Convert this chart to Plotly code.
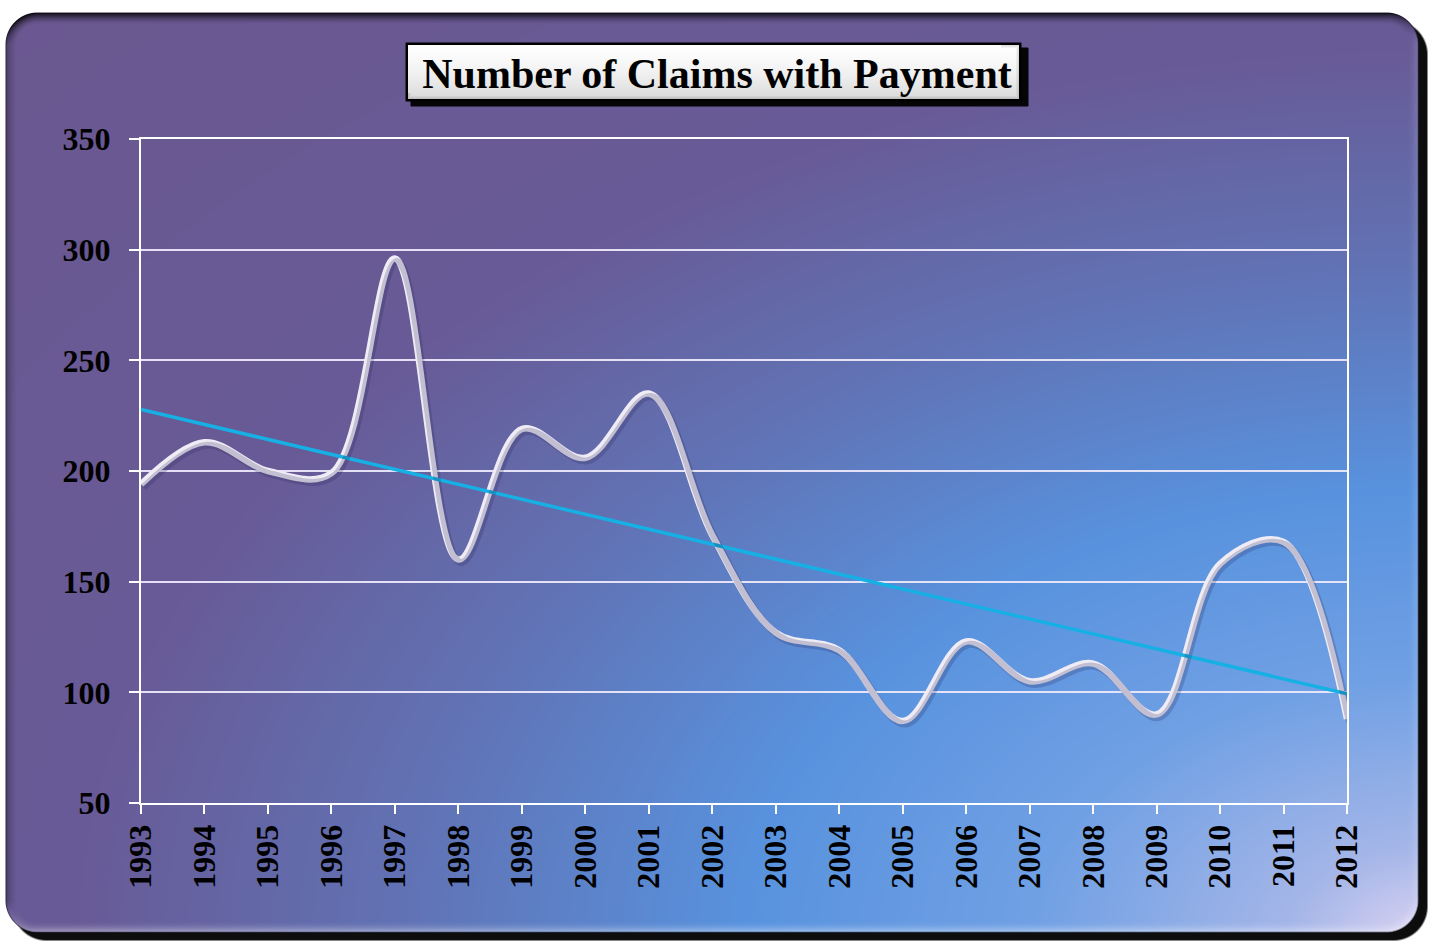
import numpy as np
import zlib, struct, base64
import plotly.graph_objects as go

# ---------------- data ----------------
years = [1993, 1994, 1995, 1996, 1997, 1998, 1999, 2000, 2001, 2002,
         2003, 2004, 2005, 2006, 2007, 2008, 2009, 2010, 2011, 2012]
claims = [194, 213, 200, 199, 296, 160, 219, 206, 235, 171,
          127, 119, 87, 123, 105, 113, 90, 158, 168, 88]
y_ticks = [50, 100, 150, 200, 250, 300, 350]
title_text = "Number of Claims with Payment"

# linear trend line (least squares) from the data
coef = np.polyfit(years, claims, 1)
trend = list(np.polyval(coef, years))

# ---------------- figure geometry ----------------
W, H = 1434, 942
PL, PR, PT, PB = 141, 87, 139, 139   # plot area margins
pw, ph = W - PL - PR, H - PT - PB

# ---------------- background picture (card + title box) ----------------
yy, xx = np.mgrid[0:H, 0:W].astype(np.float64)


def rrect_sd(x0, y0, x1, y1, r):
    cx, cy = (x0 + x1) / 2, (y0 + y1) / 2
    hx, hy = (x1 - x0) / 2 - r, (y1 - y0) / 2 - r
    qx = np.abs(xx - cx) - hx
    qy = np.abs(yy - cy) - hy
    out = np.sqrt(np.maximum(qx, 0) ** 2 + np.maximum(qy, 0) ** 2)
    ins = np.minimum(np.maximum(qx, qy), 0)
    return out + ins - r


img = np.ones((H, W, 3)) * 255.0


def blend(mask, color):
    global img
    m = mask[..., None]
    img = img * (1 - m) + np.asarray(color, dtype=float)[None, None, :] * m


# card shadow
sd_sh = rrect_sd(12, 20, 1427, 940, 34)
blend(np.clip(0.5 - sd_sh / 2.0, 0, 1) * 0.95, (0, 0, 0))

# card gradient (radial from bottom-right corner)
u = (W - xx) / W
v = (H - yy) / H
d = np.sqrt(u ** 2 + v ** 2)
stops = [0.0, 0.10, 0.28, 0.48, 0.72, 0.95, 1.6]
cols = np.array([(224, 214, 243), (165, 182, 232), (112, 160, 228), (88, 146, 222),
                 (97, 114, 180), (104, 90, 150), (108, 86, 142)], dtype=float)
grad = np.stack([np.interp(d, stops, cols[:, k]) for k in range(3)], axis=-1)

sd_c = rrect_sd(5, 12, 1418, 932, 32)
gy, gx = np.gradient(sd_c)
nrm = np.sqrt(gx ** 2 + gy ** 2) + 1e-9
gx, gy = gx / nrm, gy / nrm
light = -(gx * -0.35 + gy * -0.94)  # light from top
e = -sd_c
t = np.clip(1 - e / 12.0, 0, 1) * (e > 0)
face = grad.copy()
hl = np.clip(light, 0, 1) * t ** 2 * 0.45
dk = np.clip(-light, 0, 1) * t ** 1.6 * 0.95
face = face * (1 - hl[..., None]) + 255 * hl[..., None]
face = face * (1 - dk[..., None])
edge = np.clip(1 - e / 1.5, 0, 1) * (e > -1) * 0.55
face = face * (1 - edge[..., None])
m = np.clip(0.5 - sd_c, 0, 1)[..., None]
img = img * (1 - m) + face * m

# title box shadow + box
sd_ts = rrect_sd(410, 47, 1028, 106, 1)
blend(np.clip(0.5 - sd_ts, 0, 1) * 0.95, (0, 0, 0))
sd_tb = rrect_sd(405, 42, 1021, 101, 1)
tv = np.clip((yy - 42) / 59.0, 0, 1)
boxcol = np.stack([255 - 40 * tv ** 1.5] * 3, axis=-1)
eb = -sd_tb
shade = np.clip(1 - eb / 6.0, 0, 1) * ((xx > 1000) | (yy > 92)) * 0.25
boxcol = boxcol * (1 - shade[..., None])
border = (eb < 2.2) & (eb > -0.5)
boxcol[border] = 0
mb = np.clip(0.5 - sd_tb, 0, 1)[..., None]
img = img * (1 - mb) + boxcol * mb

img8 = np.clip(img + 0.5, 0, 255).astype(np.uint8)


def png_bytes(a):
    h, w, _ = a.shape
    raw = np.hstack([np.zeros((h, 1), np.uint8), a.reshape(h, -1)]).tobytes()

    def chunk(tag, data):
        c = struct.pack('>I', len(data)) + tag + data
        return c + struct.pack('>I', zlib.crc32(tag + data) & 0xffffffff)
    return (b'\x89PNG\r\n\x1a\n' + chunk(b'IHDR', struct.pack('>IIBBBBB', w, h, 8, 2, 0, 0, 0))
            + chunk(b'IDAT', zlib.compress(raw, 9)) + chunk(b'IEND', b''))


bg_src = 'data:image/png;base64,' + base64.b64encode(png_bytes(img8)).decode()

# ---------------- traces ----------------
fig = go.Figure()

# soft shadow of the smooth line (drawn on axes shifted a few pixels)
dx_years = 2.5 / (pw / (years[-1] - years[0]))
dy_units = 3.0 / (ph / (y_ticks[-1] - y_ticks[0]))
fig.add_trace(go.Scatter(x=years, y=claims, mode='lines', xaxis='x2', yaxis='y2',
                         line=dict(color='rgba(30,30,80,0.22)', width=7, shape='spline', smoothing=1.0),
                         hoverinfo='skip', showlegend=False))

fig.add_trace(go.Scatter(x=years, y=claims, mode='lines',
                         line=dict(color='#f0ecf6', width=6.5, shape='spline', smoothing=1.0),
                         showlegend=False, name='Claims'))

fig.add_trace(go.Scatter(x=years, y=trend, mode='lines',
                         line=dict(color='#16b0e4', width=3.5),
                         showlegend=False, name='Trend'))

tickfont = dict(family='Liberation Serif', size=32, color='black', weight='bold')

fig.update_layout(
    width=W, height=H, autosize=False,
    margin=dict(l=PL, r=PR, t=PT, b=PB, pad=0),
    paper_bgcolor='white', plot_bgcolor='rgba(0,0,0,0)',
    title=dict(text=title_text, x=0.5, xanchor='center', y=1 - 73 / H, yanchor='middle',
               font=dict(family='Liberation Serif', size=42, color='black', weight='bold')),
    xaxis=dict(range=[years[0], years[-1]], tickmode='array', tickvals=years,
               ticktext=[str(y) for y in years], tickangle=-90, tickfont=tickfont,
               ticks='outside', ticklen=9, tickwidth=2, tickcolor='white',
               showline=True, linecolor='white', linewidth=2, mirror=True,
               showgrid=False, zeroline=False, ticklabelstandoff=-2),
    yaxis=dict(range=[y_ticks[0], y_ticks[-1]], tickmode='array', tickvals=y_ticks,
               tickfont=tickfont, ticks='outside', ticklen=10, tickwidth=2, tickcolor='white',
               showline=True, linecolor='white', linewidth=2, mirror=True,
               showgrid=True, gridcolor='rgba(236,232,250,0.95)', gridwidth=1.6,
               zeroline=False, ticklabelstandoff=12),
    xaxis2=dict(range=[years[0] - dx_years, years[-1] - dx_years], overlaying='x',
                visible=False, showgrid=False),
    yaxis2=dict(range=[y_ticks[0] + dy_units, y_ticks[-1] + dy_units], overlaying='y',
                visible=False, showgrid=False),
    images=[dict(source=bg_src, xref='paper', yref='paper',
                 x=-PL / pw, y=1 + PT / ph, sizex=W / pw, sizey=H / ph,
                 xanchor='left', yanchor='top', sizing='stretch', layer='below')],
    hovermode=False,
)

fig.write_html('out.html', config={'displayModeBar': False},
               post_script="document.body.style.margin='0';")
